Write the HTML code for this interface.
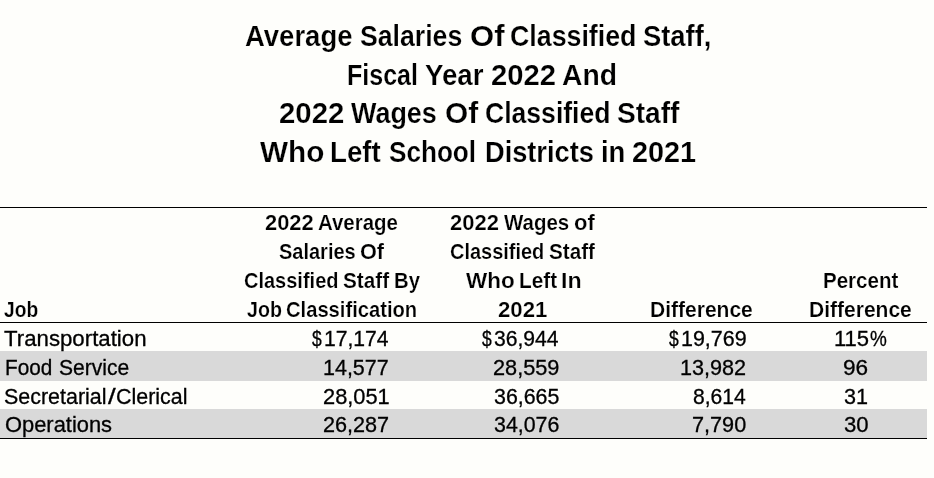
<!DOCTYPE html>
<html lang="en">
<head>
<meta charset="utf-8">
<title>Average Salaries Of Classified Staff</title>
<style>
html,body{margin:0;padding:0}
body{width:934px;height:478px;background:#fefefb;position:relative;overflow:hidden;font-family:"Liberation Sans", sans-serif;color:#000}
.l{position:absolute;left:0;margin:0;padding:0;width:934px;white-space:nowrap;font-weight:inherit}
.l span{position:absolute;top:0;display:block;transform-origin:0 0;white-space:pre}
.t{font-size:29.2px;line-height:36px;height:36px;font-weight:bold}
.h{font-size:21.6px;line-height:27px;height:27px;font-weight:bold}
.r{font-size:21.2px;line-height:27px;height:27px;font-weight:normal}
.r{-webkit-text-stroke:0.3px #000}
.h{-webkit-text-stroke:0.2px #fefefb}
.t{-webkit-text-stroke:0.2px #fefefb}
.ln{position:absolute;left:0;width:927px;height:1px;background:#000}
.g{position:absolute;left:0;width:927px;background:#d9d9d9}
</style>
</head>
<body>
<div class="ln" style="top:207px"></div>
<div class="ln" style="top:322px"></div>
<div class="g" style="top:351px;height:30px"></div>
<div class="g" style="top:409px;height:29px"></div>
<div class="ln" style="top:438px"></div>
<div class="l t" style="top:18.00px"><span style="left:245.05px;transform:scaleX(0.9418)">Average </span><span style="left:359.54px;transform:scaleX(0.9128)">Salaries </span><span style="left:469.91px;transform:scaleX(1.0628)">Of </span><span style="left:509.74px;transform:scaleX(0.9167)">Classified </span><span style="left:643.00px;transform:scaleX(0.9379)">Staff,</span></div>
<div class="l t" style="top:57.00px"><span style="left:347.04px;transform:scaleX(0.8577)">Fiscal </span><span style="left:425.47px;transform:scaleX(0.9478)">Year </span><span style="left:491.26px;transform:scaleX(1.0013)">2022 </span><span style="left:562.06px;transform:scaleX(0.9696)">And</span></div>
<div class="l t" style="top:95.00px"><span style="left:278.64px;transform:scaleX(1.0053)">2022 </span><span style="left:351.02px;transform:scaleX(0.9222)">Wages </span><span style="left:444.92px;transform:scaleX(1.0223)">Of </span><span style="left:484.67px;transform:scaleX(0.9102)">Classified </span><span style="left:616.55px;transform:scaleX(0.9618)">Staff</span></div>
<div class="l t" style="top:134.00px"><span style="left:260.00px;transform:scaleX(1.0174)">Who </span><span style="left:329.79px;transform:scaleX(0.9468)">Left </span><span style="left:389.37px;transform:scaleX(0.8951)">School </span><span style="left:484.96px;transform:scaleX(0.9317)">Districts </span><span style="left:601.06px;transform:scaleX(0.9399)">in </span><span style="left:632.17px;transform:scaleX(0.9882)">2021</span></div>
<div class="l h" style="top:296.00px"><span style="left:3.90px;transform:scaleX(0.8901)">Job</span></div>
<div class="l h" style="top:209.00px"><span style="left:265.10px;transform:scaleX(1.0139)">2022 </span><span style="left:318.41px;transform:scaleX(0.9464)">Average</span></div>
<div class="l h" style="top:238.00px"><span style="left:278.70px;transform:scaleX(0.9253)">Salaries </span><span style="left:360.39px;transform:scaleX(1.0046)">Of</span></div>
<div class="l h" style="top:267.00px"><span style="left:244.40px;transform:scaleX(0.9260)">Classified </span><span style="left:343.13px;transform:scaleX(0.9600)">Staff </span><span style="left:393.95px;transform:scaleX(0.9405)">By</span></div>
<div class="l h" style="top:296.00px"><span style="left:246.90px;transform:scaleX(0.9090)">Job </span><span style="left:286.02px;transform:scaleX(0.9344)">Classification</span></div>
<div class="l h" style="top:209.00px"><span style="left:450.40px;transform:scaleX(1.0179)">2022 </span><span style="left:503.92px;transform:scaleX(0.9472)">Wages </span><span style="left:574.12px;transform:scaleX(1.0186)">of</span></div>
<div class="l h" style="top:238.00px"><span style="left:450.40px;transform:scaleX(0.9242)">Classified </span><span style="left:548.95px;transform:scaleX(0.9582)">Staff</span></div>
<div class="l h" style="top:267.00px"><span style="left:465.60px;transform:scaleX(1.0412)">Who </span><span style="left:518.55px;transform:scaleX(0.9618)">Left </span><span style="left:561.14px;transform:scaleX(1.0756)">In</span></div>
<div class="l h" style="top:296.00px"><span style="left:498.35px;transform:scaleX(1.0284)">2021</span></div>
<div class="l h" style="top:296.00px"><span style="left:649.63px;transform:scaleX(0.9733)">Difference</span></div>
<div class="l h" style="top:267.00px"><span style="left:822.75px;transform:scaleX(0.9510)">Percent</span></div>
<div class="l h" style="top:296.00px"><span style="left:809.13px;transform:scaleX(0.9733)">Difference</span></div>
<div class="l r" style="top:325.00px"><span style="left:4.30px;transform:scaleX(1.0493)">Transportation</span></div>
<div class="l r" style="top:325.00px"><span style="left:311.80px;transform:scaleX(0.8225)">$</span><span style="left:323.80px;transform:scaleX(0.9967)">17,174</span></div>
<div class="l r" style="top:325.00px"><span style="left:481.80px;transform:scaleX(0.8225)">$</span><span style="left:493.81px;transform:scaleX(0.9965)">36,944</span></div>
<div class="l r" style="top:325.00px"><span style="left:668.70px;transform:scaleX(0.8225)">$</span><span style="left:680.68px;transform:scaleX(1.0125)">19,769</span></div>
<div class="l r" style="top:325.00px"><span style="left:834.26px;transform:scaleX(1.0399)">115</span><span style="left:869.73px;transform:scaleX(0.8931)">%</span></div>
<div class="l r" style="top:354.00px"><span style="left:5.42px;transform:scaleX(0.9796)">Food </span><span style="left:58.93px;transform:scaleX(0.9929)">Service</span></div>
<div class="l r" style="top:354.00px"><span style="left:323.39px;transform:scaleX(1.0140)">14,577</span></div>
<div class="l r" style="top:354.00px"><span style="left:492.97px;transform:scaleX(1.0251)">28,559</span></div>
<div class="l r" style="top:354.00px"><span style="left:680.18px;transform:scaleX(1.0203)">13,982</span></div>
<div class="l r" style="top:354.00px"><span style="left:843.13px;transform:scaleX(1.0650)">96</span></div>
<div class="l r" style="top:383.00px"><span style="left:4.30px;transform:scaleX(1.0122)">Secretarial</span><span style="left:108.22px;transform:scaleX(1.3000)">/</span><span style="left:115.88px;transform:scaleX(1.0112)">Clerical</span></div>
<div class="l r" style="top:383.00px"><span style="left:322.67px;transform:scaleX(1.0298)">28,051</span></div>
<div class="l r" style="top:383.00px"><span style="left:494.00px;transform:scaleX(1.0091)">36,665</span></div>
<div class="l r" style="top:383.00px"><span style="left:692.80px;transform:scaleX(0.9955)">8,614</span></div>
<div class="l r" style="top:383.00px"><span style="left:843.80px;transform:scaleX(1.0183)">31</span></div>
<div class="l r" style="top:411.00px"><span style="left:5.17px;transform:scaleX(1.0329)">Operations</span></div>
<div class="l r" style="top:411.00px"><span style="left:322.68px;transform:scaleX(1.0203)">26,287</span></div>
<div class="l r" style="top:411.00px"><span style="left:494.00px;transform:scaleX(1.0091)">34,076</span></div>
<div class="l r" style="top:411.00px"><span style="left:692.38px;transform:scaleX(1.0227)">7,790</span></div>
<div class="l r" style="top:411.00px"><span style="left:843.80px;transform:scaleX(1.0446)">30</span></div>
</body>
</html>
